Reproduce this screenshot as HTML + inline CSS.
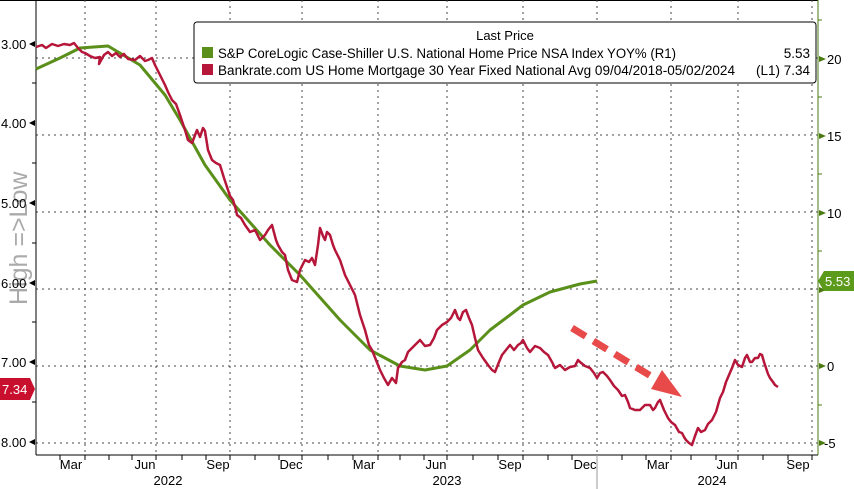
<!DOCTYPE html>
<html><head><meta charset="utf-8"><style>
body{margin:0;background:#fff;}
svg{display:block;font-family:"Liberation Sans",sans-serif;}
</style></head><body>
<svg width="854" height="489" viewBox="0 0 854 489" xmlns="http://www.w3.org/2000/svg">
<rect width="854" height="489" fill="#fff"/>
<line x1="0" y1="0.5" x2="818" y2="0.5" stroke="#000" stroke-width="1"/>
<g stroke="#444" stroke-width="1" stroke-dasharray="2,4">
<line x1="36" y1="58" x2="818" y2="58"/><line x1="36" y1="135" x2="818" y2="135"/>
<line x1="36" y1="212" x2="818" y2="212"/><line x1="36" y1="289" x2="818" y2="289"/>
<line x1="36" y1="366" x2="818" y2="366"/><line x1="36" y1="443" x2="818" y2="443"/>
<line x1="85" y1="0" x2="85" y2="455"/><line x1="156" y1="0" x2="156" y2="455"/>
<line x1="230" y1="0" x2="230" y2="455"/><line x1="302" y1="0" x2="302" y2="455"/>
<line x1="378" y1="0" x2="378" y2="455"/><line x1="447" y1="0" x2="447" y2="455"/>
<line x1="523" y1="0" x2="523" y2="455"/><line x1="597" y1="0" x2="597" y2="455"/>
<line x1="671" y1="0" x2="671" y2="455"/><line x1="738" y1="0" x2="738" y2="455"/>
<line x1="812" y1="0" x2="812" y2="455"/>
</g>
<text transform="translate(27,305) rotate(-90)" font-size="25" fill="#aaa">High =&gt;Low</text>
<line x1="36" y1="0" x2="36" y2="455" stroke="#000"/>
<line x1="36" y1="455" x2="818" y2="455" stroke="#000"/>
<line x1="818" y1="0" x2="818" y2="455" stroke="#4a7a10"/>
<g font-size="13" fill="#000">
<text x="1" y="49">3.00</text><text x="1" y="128">4.00</text><text x="1" y="208">5.00</text>
<text x="1" y="288">6.00</text><text x="1" y="367">7.00</text><text x="1" y="447">8.00</text>
</g>
<g fill="#000"><path d="M29,44 l6,-3 v6z"/><path d="M29,123 l6,-3 v6z"/><path d="M29,203 l6,-3 v6z"/><path d="M29,283 l6,-3 v6z"/><path d="M29,362 l6,-3 v6z"/><path d="M29,442 l6,-3 v6z"/></g>
<g stroke="#000"><line x1="32" y1="83" x2="36" y2="83"/><line x1="32" y1="163" x2="36" y2="163"/><line x1="32" y1="243" x2="36" y2="243"/><line x1="32" y1="322" x2="36" y2="322"/><line x1="32" y1="402" x2="36" y2="402"/></g>
<g fill="#4a7a10"><path d="M826,59 l-7,-3 v6z"/><path d="M826,136 l-7,-3 v6z"/><path d="M826,213 l-7,-3 v6z"/><path d="M826,290 l-7,-3 v6z"/><path d="M826,366 l-7,-3 v6z"/><path d="M826,443 l-7,-3 v6z"/></g>
<g stroke="#4a7a10"><line x1="818" y1="20" x2="822" y2="20"/><line x1="818" y1="97" x2="822" y2="97"/><line x1="818" y1="174" x2="822" y2="174"/><line x1="818" y1="251" x2="822" y2="251"/><line x1="818" y1="405" x2="822" y2="405"/></g>
<g font-size="13" fill="#000">
<text x="827" y="64">20</text><text x="827" y="141">15</text><text x="827" y="218">10</text>
<text x="827" y="371">0</text><text x="824" y="448">-5</text>
</g>
<path d="M818,281 l6,-10 h30 v20 h-30z" fill="#5b9a1a"/>
<text x="825" y="286" font-size="13" fill="#fff">5.53</text>
<path d="M0,378 h30 l5,11 l-5,11 h-30z" fill="#c8102e"/>
<text x="2" y="394" font-size="13" fill="#fff">7.34</text>
<g stroke="#000">
<line x1="60" y1="455" x2="60" y2="460"/><line x1="85" y1="455" x2="85" y2="460"/><line x1="109" y1="455" x2="109" y2="460"/><line x1="132" y1="455" x2="132" y2="460"/><line x1="156" y1="455" x2="156" y2="460"/><line x1="182" y1="455" x2="182" y2="460"/><line x1="206" y1="455" x2="206" y2="460"/><line x1="230" y1="455" x2="230" y2="460"/><line x1="255" y1="455" x2="255" y2="460"/><line x1="279" y1="455" x2="279" y2="460"/><line x1="302" y1="455" x2="302" y2="460"/><line x1="328" y1="455" x2="328" y2="460"/><line x1="353" y1="455" x2="353" y2="460"/><line x1="378" y1="455" x2="378" y2="460"/><line x1="400" y1="455" x2="400" y2="460"/><line x1="424" y1="455" x2="424" y2="460"/><line x1="447" y1="455" x2="447" y2="460"/><line x1="473" y1="455" x2="473" y2="460"/><line x1="498" y1="455" x2="498" y2="460"/><line x1="523" y1="455" x2="523" y2="460"/><line x1="548" y1="455" x2="548" y2="460"/><line x1="572" y1="455" x2="572" y2="460"/><line x1="597" y1="455" x2="597" y2="460"/><line x1="622" y1="455" x2="622" y2="460"/><line x1="646" y1="455" x2="646" y2="460"/><line x1="671" y1="455" x2="671" y2="460"/><line x1="691" y1="455" x2="691" y2="460"/><line x1="716" y1="455" x2="716" y2="460"/><line x1="738" y1="455" x2="738" y2="460"/><line x1="763" y1="455" x2="763" y2="460"/><line x1="788" y1="455" x2="788" y2="460"/><line x1="812" y1="455" x2="812" y2="460"/>
</g>
<line x1="597" y1="455" x2="597" y2="489" stroke="#999"/>
<g font-size="13" fill="#000" text-anchor="middle">
<text x="71" y="469">Mar</text><text x="145" y="469">Jun</text><text x="218" y="469">Sep</text><text x="291" y="469">Dec</text>
<text x="364" y="469">Mar</text><text x="436" y="469">Jun</text><text x="510" y="469">Sep</text><text x="585" y="469">Dec</text>
<text x="658" y="469">Mar</text><text x="727" y="469">Jun</text><text x="798" y="469">Sep</text>
<text x="168" y="485">2022</text><text x="447" y="485">2023</text><text x="712" y="485">2024</text>
</g>
<polyline fill="none" stroke="#5a8f1a" stroke-width="3" stroke-linejoin="round" points="36,69 60,58 80,48 108,46 140,65 165,95 180,120 205,165 230,200 270,245 300,275 340,320 370,350 400,366 425,370 447,366 470,350 490,330 510,315 523,305 550,292 580,284 597,281"/>
<polyline fill="none" stroke="#b5163a" stroke-width="2.5" stroke-linejoin="round" points="36,47 42,45 46,48 52,44 58,46 64,44 70,45 74,43 78,48 82,52 85,53 90,56 95,58 100,57 99,64 104,55 108,52 112,56 116,53 120,57 124,54 128,59 135,60 140,56 145,61 148,60 152,58 155,65 160,75 165,85 168,92 172,100 176,104 180,115 185,130 188,140 192,143 197,130 200,137 203,128 205,131 208,150 212,160 216,163 220,165 224,178 228,190 230,196 233,200 236,210 237,215 241,218 245,225 250,232 255,230 260,240 265,235 268,230 272,225 276,240 278,245 282,252 285,255 288,270 292,280 297,282 300,270 305,260 309,262 312,258 315,265 318,245 320,228 323,236 325,240 327,232 330,235 333,245 335,250 340,260 345,275 350,285 355,295 360,315 365,330 369,345 372,350 376,360 380,370 384,378 388,385 392,378 396,383 398,368 402,362 405,360 408,352 410,350 415,345 420,340 425,346 430,345 434,338 437,330 442,325 447,322 451,318 455,310 458,318 460,320 463,312 466,310 469,318 472,325 475,338 478,350 483,358 488,365 492,370 495,372 499,362 502,355 506,350 510,345 514,350 518,345 521,343 523,340 527,348 530,352 535,346 540,348 544,352 548,355 552,362 555,368 560,365 565,370 570,367 575,366 578,360 580,362 585,366 590,368 594,373 597,378 600,373 603,372 607,376 610,380 614,386 618,390 622,396 625,395 628,402 630,408 635,410 640,410 645,405 650,405 653,410 655,408 658,402 660,400 664,410 668,418 671,422 675,425 679,432 682,433 684,437 686,440 689,443 692,445 695,436 698,428 701,432 705,430 708,424 712,420 716,412 720,398 723,392 726,382 729,375 732,368 735,360 738,365 742,367 745,358 747,355 750,362 752,362 755,358 758,358 760,354 762,355 764,362 766,368 768,374 770,378 773,382 775,385 778,387"/>
<line x1="572" y1="328" x2="664" y2="384" stroke="#e84a4a" stroke-width="7" stroke-dasharray="16,9"/>
<path d="M662,370 L682,397 L651,389z" fill="#e84a4a"/>
<rect x="194" y="22" width="622" height="61" rx="3" fill="#fff" stroke="#000" stroke-width="1"/>
<text x="505" y="40" font-size="13" text-anchor="middle">Last Price</text>
<rect x="202" y="47" width="11" height="11" fill="#5a8f1a"/>
<rect x="202" y="64" width="11" height="11" fill="#b5163a"/>
<g font-size="13.5" fill="#000">
<text x="218" y="58" textLength="458" lengthAdjust="spacingAndGlyphs">S&amp;P CoreLogic Case-Shiller U.S. National Home Price NSA Index YOY%  (R1)</text>
<text x="218" y="75" textLength="517" lengthAdjust="spacingAndGlyphs">Bankrate.com US Home Mortgage 30 Year Fixed National Avg 09/04/2018-05/02/2024</text>
<text x="810" y="58" text-anchor="end">5.53</text>
<text x="810" y="75" text-anchor="end">(L1) 7.34</text>
</g>
</svg>
</body></html>
